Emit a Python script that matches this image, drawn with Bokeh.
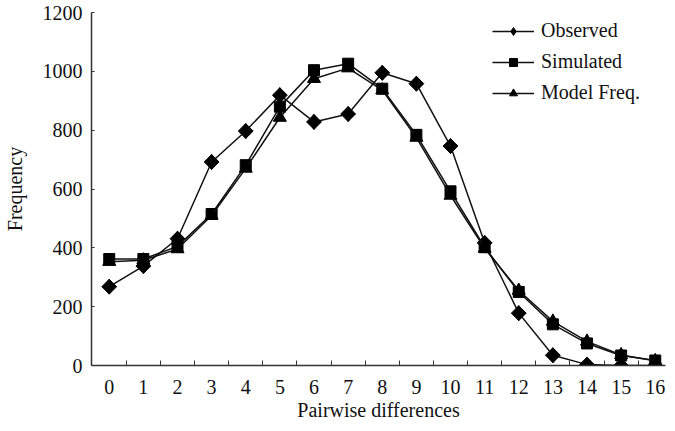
import math
from bokeh.plotting import figure
from bokeh.models import Range1d, FixedTicker, Legend, LegendItem
from bokeh.embed import file_html
from bokeh.resources import INLINE

categories = list(range(0, 17))
observed = [268, 338, 431, 692, 797, 919, 828, 855, 995, 958, 746, 417, 178, 35, 3, 0, 0]
simulated = [362, 362, 405, 515, 681, 880, 1004, 1026, 941, 784, 592, 402, 250, 140, 75, 34, 17]
model_freq = [353, 358, 396, 510, 670, 843, 975, 1011, 936, 775, 578, 398, 255, 150, 82, 36, 16]
y_ticks = [0, 200, 400, 600, 800, 1000, 1200]
series_names = ["Observed", "Simulated", "Model Freq."]

FONT = "Liberation Serif"
FS = "20px"
LC = "#111111"

p = figure(width=667, height=423, output_backend="svg", toolbar_location=None,
           x_range=Range1d(-0.52, 16.3), y_range=Range1d(0, 1200),
           min_border_left=87, min_border_right=2, min_border_top=12, min_border_bottom=58)
p.outline_line_color = None
p.grid.visible = False
p.background_fill_color = "white"

x_minor = [c + 0.5 for c in categories[:-1]]
p.xaxis.ticker = FixedTicker(ticks=categories, minor_ticks=x_minor)
p.xaxis.minor_tick_in = 5
p.xaxis.minor_tick_out = 0
p.xaxis.minor_tick_line_color = "#333333"
p.xaxis.axis_label = "Pairwise differences"
p.xaxis.major_label_standoff = 8
p.xaxis.axis_label_standoff = 2

p.yaxis.ticker = FixedTicker(ticks=y_ticks, minor_ticks=[])
p.yaxis.major_tick_in = 3
p.yaxis.major_tick_out = 0
p.yaxis.minor_tick_line_color = None
p.yaxis.axis_label = "Frequency"
p.yaxis.major_label_standoff = 9
p.yaxis.axis_label_standoff = 14

for ax in (p.xaxis, p.yaxis):
    ax.axis_line_color = "#333333"
    ax.axis_line_width = 1.5
    ax.major_label_text_font = FONT
    ax.major_label_text_font_size = FS
    ax.major_label_text_color = "#111111"
    ax.axis_label_text_font = FONT
    ax.axis_label_text_font_size = FS
    ax.axis_label_text_font_style = "normal"
    ax.axis_label_text_color = "#111111"
p.xaxis.major_tick_line_color = None
p.yaxis.major_tick_line_color = "#333333"

# (plot marker, plot size, angle, legend marker, legend size)
specs = [(observed, "square", 10.5, math.pi / 4, "diamond", 15),
         (simulated, "square", 11, 0, "square", 8),
         (model_freq, "triangle", 13, 0, "triangle", 10)]
items = []
for name, (vals, marker, size, ang, lmarker, lsize) in zip(series_names, specs):
    ln = p.line(categories, vals, line_color=LC, line_width=1.5)
    p.scatter(categories, vals, marker=marker, size=size, angle=ang,
              fill_color="black", line_color="black")
    # smaller marker drawn inside the plotted one; used as legend swatch
    sc = p.scatter(categories, vals, marker=lmarker, size=lsize,
                   fill_color="black", line_color="black")
    items.append(LegendItem(label=name, renderers=[ln, sc]))

legend = Legend(items=items, location=(401, 261),
                label_text_font=FONT, label_text_font_size=FS, label_text_color="#111111",
                glyph_width=42, glyph_height=20, label_height=20, spacing=8,
                label_standoff=7, padding=0, margin=0,
                border_line_color=None, background_fill_alpha=0)
p.add_layout(legend, "center")

open("out.html", "w").write(file_html(p, INLINE))
